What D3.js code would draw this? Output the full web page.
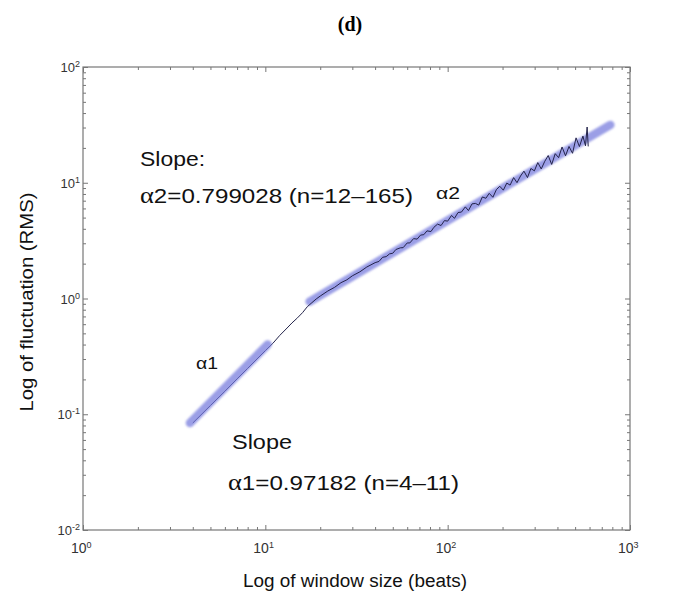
<!DOCTYPE html>
<html>
<head>
<meta charset="utf-8">
<script src="https://cdn.jsdelivr.net/npm/d3@7"></script>
<style>
  body { margin: 0; background: #fff; }
  svg { font-family: "Liberation Sans", Arial, sans-serif; }
</style>
</head>
<body>
<svg id="chart" width="700" height="599"></svg>
<script>
// window sizes (beats) and RMS fluctuation
var windowSize = [4, 5, 6, 7, 8, 9, 10, 11, 12, 13, 14, 15, 16, 17, 18, 19, 20, 22, 24, 26, 28, 30,
  33, 36, 40, 42, 44, 46, 48, 50, 52, 55, 57, 60, 62, 65, 68, 71, 74, 77, 81, 84, 88, 92, 96, 100,
  105, 109, 114, 119, 125, 130, 136, 142, 148, 155, 162, 169, 177, 185, 193, 202, 211, 220, 230,
  240, 251, 262, 274, 286, 299, 312, 326, 341, 356, 372, 389, 406, 424, 443, 463, 484, 506, 528,
  552, 570, 582, 590]
var fluctuation = [0.084, 0.119, 0.158, 0.202, 0.249, 0.300, 0.354, 0.410, 0.48, 0.545, 0.615, 0.68,
  0.755, 0.85, 0.92, 0.99, 1.05, 1.16, 1.25, 1.37, 1.45, 1.57, 1.70, 1.87, 2.04, 2.09, 2.27, 2.30,
  2.43, 2.46, 2.65, 2.74, 2.75, 3.02, 3.02, 3.29, 3.26, 3.53, 3.56, 3.84, 3.79, 4.12, 4.39, 4.27,
  4.71, 4.66, 5.22, 4.93, 5.53, 5.58, 6.19, 5.75, 6.57, 6.63, 6.41, 7.54, 7.34, 8.10, 7.49, 8.72,
  9.33, 8.63, 9.93, 9.54, 11.08, 10.02, 11.43, 12.6, 11.09, 13.28, 12.67, 14.94, 13.16, 15.34,
  17.19, 14.39, 17.84, 16.47, 20.37, 17.10, 20.57, 17.97, 24.43, 20.55, 25.3, 20.86, 30.3, 20.6]

// fitted lines (end points)
var fit1N = [3.86, 10.3]
var fit1F = [0.084, 0.40]
var fit2N = [17.5, 780]
var fit2F = [0.94, 31.6]

var xDecades = [1, 10, 100, 1000]
var yDecades = [0.01, 0.1, 1, 10, 100]

var svg = d3.select("#chart")
var plotLeft = 83, plotRight = 630, plotTop = 67, plotBottom = 530

var x = d3.scaleLog().domain([1, 1000]).range([plotLeft, plotRight])
var y = d3.scaleLog().domain([0.01, 100]).range([plotBottom, plotTop])

// minor ticks 2..9 in each decade
function minors(decades) {
    var out = []
    decades.slice(0, -1).forEach(function(d) {
        for (var k = 2; k <= 9; k++) out.push(d * k)
    })
    return out
}

var axisColor = "#777"

// frame
svg.append("rect")
    .attr("x", plotLeft).attr("y", plotTop)
    .attr("width", plotRight - plotLeft).attr("height", plotBottom - plotTop)
    .attr("fill", "none").attr("stroke", axisColor).attr("stroke-width", 1.2)

function styleAxis(g) {
    g.select(".domain").remove()
    g.selectAll(".tick line").attr("stroke", axisColor)
}

//bottom / top axes
svg.append("g").attr("transform", "translate(0," + plotBottom + ")")
    .call(d3.axisBottom(x).tickValues(minors(xDecades)).tickSize(-3).tickFormat(""))
    .call(styleAxis)
svg.append("g").attr("transform", "translate(0," + plotBottom + ")")
    .call(d3.axisBottom(x).tickValues(xDecades).tickSize(-5).tickFormat(""))
    .call(styleAxis)
svg.append("g").attr("transform", "translate(0," + plotTop + ")")
    .call(d3.axisTop(x).tickValues(minors(xDecades)).tickSize(-3).tickFormat(""))
    .call(styleAxis)
svg.append("g").attr("transform", "translate(0," + plotTop + ")")
    .call(d3.axisTop(x).tickValues(xDecades).tickSize(-5).tickFormat(""))
    .call(styleAxis)

//left / right axes
svg.append("g").attr("transform", "translate(" + plotLeft + ",0)")
    .call(d3.axisLeft(y).tickValues(minors(yDecades)).tickSize(-3).tickFormat(""))
    .call(styleAxis)
svg.append("g").attr("transform", "translate(" + plotLeft + ",0)")
    .call(d3.axisLeft(y).tickValues(yDecades).tickSize(-5).tickFormat(""))
    .call(styleAxis)
svg.append("g").attr("transform", "translate(" + plotRight + ",0)")
    .call(d3.axisRight(y).tickValues(minors(yDecades)).tickSize(-3).tickFormat(""))
    .call(styleAxis)
svg.append("g").attr("transform", "translate(" + plotRight + ",0)")
    .call(d3.axisRight(y).tickValues(yDecades).tickSize(-5).tickFormat(""))
    .call(styleAxis)

// power-of-ten labels
function powLabel(sel, d) {
    sel.append("tspan").text("10")
    sel.append("tspan").attr("dy", "-0.55em").attr("font-size", "9px").text(Math.round(Math.log10(d)))
}
svg.append("g").selectAll("text")
    .data(xDecades).enter().append("text")
    .attr("x", function(d) { return x(d) - 12 })
    .attr("y", plotBottom + 23)
    .attr("font-size", "14px").attr("fill", "#333")
    .each(function(d) { powLabel(d3.select(this), d) })
svg.append("g").selectAll("text")
    .data(yDecades).enter().append("text")
    .attr("x", plotLeft - 3)
    .attr("y", function(d) { return y(d) + 5 })
    .attr("text-anchor", "end")
    .attr("font-size", "13px").attr("fill", "#333")
    .each(function(d) { powLabel(d3.select(this), d) })

// blur for the fitted bands
var defs = svg.append("defs")
defs.append("filter").attr("id", "soft")
    .append("feGaussianBlur").attr("stdDeviation", 1.3)

var line = d3.line()
    .x(function(d) { return x(d[0]) })
    .y(function(d) { return y(d[1]) })

function band(ns, fs) {
    svg.append("path")
        .datum(d3.zip(ns, fs))
        .attr("d", line)
        .attr("fill", "none")
        .attr("stroke", "#7479dc")
        .attr("stroke-opacity", 0.72)
        .attr("stroke-width", 8.5)
        .attr("stroke-linecap", "round")
        .attr("filter", "url(#soft)")
}

band(fit2N, fit2F)

//data curve
svg.append("path")
    .datum(d3.zip(windowSize, fluctuation))
    .attr("d", line)
    .attr("fill", "none")
    .attr("stroke", "#23234a")
    .attr("stroke-width", 1)

band(fit1N, fit1F)

// texts
svg.append("text")
    .attr("x", 350).attr("y", 31)
    .attr("text-anchor", "middle")
    .style("font-family", "'Liberation Serif', 'Times New Roman', serif")
    .style("font-weight", "bold").style("font-size", "20px")
    .text("(d)")

svg.append("text")
    .attr("x", 243).attr("y", 587)
    .attr("textLength", 224).attr("lengthAdjust", "spacingAndGlyphs")
    .style("font-size", "18px").attr("fill", "#111")
    .text("Log of window size (beats)")

svg.append("text")
    .attr("transform", "translate(33,302) rotate(-90)")
    .attr("text-anchor", "middle")
    .attr("textLength", 219).attr("lengthAdjust", "spacingAndGlyphs")
    .style("font-size", "18px").attr("fill", "#111")
    .text("Log of fluctuation (RMS)")

function plainText(xp, yp, len, size, str) {
    svg.append("text").attr("x", xp).attr("y", yp)
        .attr("textLength", len).attr("lengthAdjust", "spacingAndGlyphs")
        .style("font-size", size + "px").attr("fill", "#111")
        .text(str)
}

function alphaText(xp, yp, len, idx, rest) {
    var t = svg.append("text").attr("x", xp).attr("y", yp)
        .attr("textLength", len).attr("lengthAdjust", "spacingAndGlyphs")
        .style("font-size", "21px").attr("fill", "#111")
    t.append("tspan").style("font-family", "'Liberation Serif', serif").style("font-size", "23px").text("\u03b1")
    t.append("tspan").text(idx + rest)
}

plainText(140, 166, 65, 21, "Slope:")
alphaText(140, 203, 273, "2", "=0.799028 (n=12\u2013165)")

plainText(232, 449, 60, 21, "Slope")
alphaText(228, 490, 231, "1", "=0.97182 (n=4\u201311)")

plainText(436, 199, 24, 16, "\u03b12")
plainText(196, 369, 22, 16, "\u03b11")
</script>
</body>
</html>
